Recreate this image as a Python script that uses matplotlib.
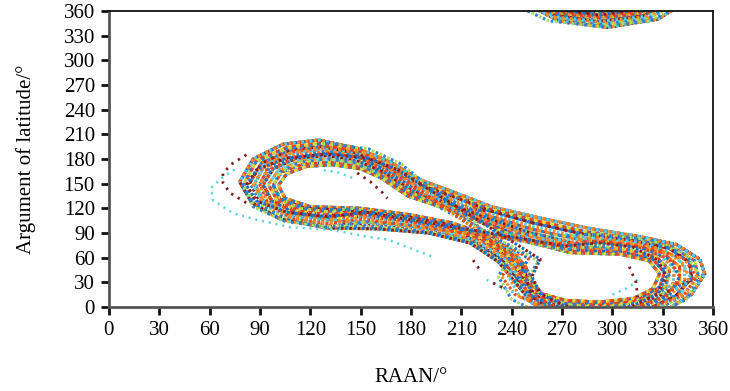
import matplotlib
matplotlib.use("Agg")
import matplotlib.pyplot as plt
import numpy as np

plt.rcParams['font.family'] = ['Liberation Serif', 'DejaVu Serif']

# RAAN (deg), argument of latitude (deg) along the orbits.
# Values below 0 wrap round to the top of the plot.
outer = [(78,152),(86,180),(104,198),(125,203),(148,193),(168,176),(185,155),(205,140),(228,122),(255,109),
         (285,96),(315,86),(338,76),(352,58),(355,40),(347,15),(327,-10),(297,-20),(268,-12),(252,5),
         (242,30),(232,55),(215,78),(190,90),(160,95),(130,96),(102,107),(85,127),(78,152)]
ring_a = [(81,151),(88,178),(106,194),(126,199),(148,190),(167,173),(184,152),(204,137),(227,119),(254,105),
          (283,92),(313,83),(336,73),(349,56),(351,37),(342,14),(322,-8),(294,-16),(266,-8),(252,8),
          (242,32),(233,56),(216,79),(192,91),(162,97),(132,99),(104,109),(87,127),(81,151)]
mid1 = [(84,151),(91,175),(108,191),(127,195),(148,187),(166,171),(183,150),(204,135),(227,117),(253,102),
        (282,89),(312,81),(334,71),(346,54),(347,35),(338,14),(318,-6),(291,-13),(265,-5),(252,12),
        (243,35),(234,58),(217,80),(194,93),(165,99),(135,102),(106,111),(90,128),(84,151)]
ring_b = [(87,150),(93,173),(109,188),(128,191),(148,184),(165,169),(182,147),(203,132),(226,114),(252,98),
          (281,85),(311,78),(332,68),(343,51),(343,33),(334,13),(314,-4),(288,-10),(264,-2),(252,15),
          (244,37),(235,60),(218,81),(196,94),(167,101),(137,105),(108,113),(92,129),(87,150)]
mid2 = [(90,150),(96,171),(111,185),(129,188),(149,181),(165,167),(181,145),(202,130),(226,111),(251,95),
        (280,82),(310,76),(330,66),(340,49),(340,31),(330,12),(310,-2),(285,-6),(263,2),(252,18),
        (245,40),(236,62),(220,83),(198,96),(170,104),(140,108),(111,115),(95,130),(90,150)]
ring_c = [(92,149),(98,168),(112,181),(130,184),(149,177),(164,164),(180,142),(201,127),(226,108),(250,91),
          (278,77),(308,73),(328,63),(337,47),(336,28),(325,11),(305,0),(281,-2),(261,5),(252,21),
          (245,42),(237,63),(221,84),(199,97),(172,106),(142,111),(113,116),(97,130),(92,149)]
mid3 = [(95,149),(101,166),(114,178),(131,180),(149,174),(163,162),(180,140),(201,125),(226,105),(250,87),
        (277,73),(307,70),(326,61),(334,45),(332,26),(321,11),(301,2),(278,1),(260,9),(252,25),
        (246,45),(238,65),(222,85),(201,99),(175,108),(145,114),(115,118),(100,131),(95,149)]
ring_d = [(98,148),(103,164),(116,174),(132,176),(149,171),(162,159),(179,137),(200,122),(225,102),(249,83),
          (276,69),(306,67),(324,58),(331,42),(328,24),(316,10),(296,4),(275,4),(259,12),(252,28),
          (247,47),(239,66),(223,86),(203,100),(177,110),(147,117),(117,120),(102,131),(98,148)]
inner = [(101,148),(106,162),(118,171),(133,173),(150,168),(162,157),(178,135),(200,120),(225,100),(248,80),
         (275,66),(305,64),(322,56),(328,40),(324,22),(312,10),(292,6),(272,8),(258,16),(252,32),
         (248,50),(240,68),(225,88),(205,102),(180,112),(150,120),(120,122),(105,132),(101,148)]

# figure-eight orbits crossing in the middle band
eights = [
    [(174,174),(155,192),(130,199),(105,192),(86,174),(80,148),(86,122),(105,104),(130,97),(155,104),
     (262,86),(292,88),(322,82),(344,63),(352,37),(344,9),(322,-12),(292,-19),(262,-12),(240,9),(232,37),(240,65),(174,174)],
    [(168,171),(152,187),(130,193),(108,187),(92,171),(86,148),(92,126),(108,109),(130,103),(152,109),
     (265,81),(292,84),(319,78),(339,60),(346,37),(339,12),(319,-7),(292,-13),(265,-7),(245,12),(238,37),(245,62),(168,171)],
    [(163,168),(149,182),(130,187),(111,182),(97,168),(92,148),(97,129),(111,114),(130,109),(149,114),
     (268,75),(292,79),(316,73),(334,58),(340,37),(334,15),(316,-1),(292,-7),(268,-1),(250,15),(244,37),(250,59),(163,168)],
    [(158,164),(146,176),(130,180),(114,176),(102,164),(98,148),(102,132),(114,120),(130,116),(146,120),
     (271,70),(292,74),(313,69),(329,55),(334,37),(329,18),(313,4),(292,-1),(271,4),(256,18),(250,37),(256,56),(158,164)],
    [(165,172),(150,189),(130,195),(110,189),(95,172),(90,148),(95,125),(110,107),(130,101),(150,107),
     (263,76),(292,80),(321,74),(343,58),(350,37),(343,15),(321,-2),(292,-8),(263,-2),(242,15),(234,37),(242,60),(165,172)],
    [(172,167),(154,181),(130,186),(106,181),(88,167),(82,148),(88,129),(106,115),(130,110),(154,115),
     (272,74),(292,78),(312,73),(327,57),(332,37),(327,16),(312,1),(292,-5),(272,1),(257,16),(252,37),(257,58),(172,167)],
]

# stray arcs outside the main band
cyan_arcs = [
    [(75,167),(68,158),(61,145),(62,130),(74,114),(88,106),(108,97),(132,94),(155,85),(166,82),(193,61)],
    [(128,166),(136,164),(145,157)],
    [(300,15),(310,24),(316,35)],
    [(225,33),(233,25),(241,18)],
]
brown_arcs = [
    [(82,185),(74,175),(68,163),(68,151),(72,139),(84,124)],
    [(148,163),(156,152),(163,139),(166,132)],
    [(217,57),(221,45)],
    [(229,29),(237,21)],
    [(310,49),(314,30),(315,12)],
]

rings = [outer, ring_a, mid1, ring_b, mid2, ring_c, mid3, ring_d, inner]

# orbits that drift from one band to another part way round
mixed = [
    outer[:8] + mid2[8:23] + outer[23:],
    inner[:8] + mid1[8:23] + inner[23:],
    ring_b[:8] + inner[8:23] + ring_b[23:],
    ring_d[:8] + outer[8:23] + ring_d[23:],
    outer[:15] + ring_c[15:],
    ring_c[:15] + ring_a[15:],
    ring_a[:15] + inner[15:],
    inner[:15] + ring_b[15:],
    mid3[:15] + outer[15:],
    outer[:5] + ring_d[5:],
    inner[:5] + ring_a[5:],
    mid1[:5] + mid3[5:],
    ring_c[:11] + outer[11:],
    mid2[:11] + inner[11:],
    ring_a[:11] + mid3[11:],
    mid1[:20] + ring_d[20:],
    outer[:20] + ring_b[20:],
    inner[:20] + ring_c[20:],
]

orbits = rings + mixed + eights

colors = ['#2b80cf', '#e8431e', '#8c1c1c', '#f48a25', '#ecd83c', '#2b80cf', '#5bcde0', '#e8431e',
          '#a9dc5a', '#f48a25', '#1d6fc0']

fig, ax = plt.subplots(figsize=(7.3, 3.91), dpi=100)
fig.subplots_adjust(left=0.149, right=0.977, top=0.972, bottom=0.215)

def draw(pts, c1, c2=None, lw=2.2, phase=0.0):
    x = np.array([p[0] for p in pts], dtype=float)
    y = np.array([p[1] for p in pts], dtype=float)
    for shift in (0, 360):
        ax.plot(x, y + shift, color=c1, lw=lw, linestyle=(phase, (0.85, 1.9)))
        if c2 is not None:
            ax.plot(x, y + shift, color=c2, lw=lw, linestyle=(phase + 1.4, (0.85, 1.9)))

n = len(colors)
for i, orb in enumerate(orbits):
    draw(orb, colors[i % n], colors[(i + 3) % n], phase=(i % 3) * 0.45)

for arc in cyan_arcs:
    draw(arc, '#5fd3de', lw=1.8)
for arc in brown_arcs:
    draw(arc, '#7e1f1f', lw=2.0)

ax.set_xlim(0, 360)
ax.set_ylim(0, 360)
ax.set_xticks(np.arange(0, 361, 30))
ax.set_yticks(np.arange(0, 361, 30))
ax.tick_params(direction='out', length=6, width=2, labelsize=15, color='#111111', pad=4)
ax.tick_params(top=False, right=False)

for s in ['left', 'bottom']:
    ax.spines[s].set_color('#555555')
    ax.spines[s].set_linewidth(2)
for s in ['top', 'right']:
    ax.spines[s].set_color('#111111')
    ax.spines[s].set_linewidth(1.3)

ax.set_xlabel('RAAN/°', fontsize=15, labelpad=20)
ax.set_ylabel('Argument of latitude/°', fontsize=15, labelpad=20)

plt.savefig('out.png', dpi=100)
